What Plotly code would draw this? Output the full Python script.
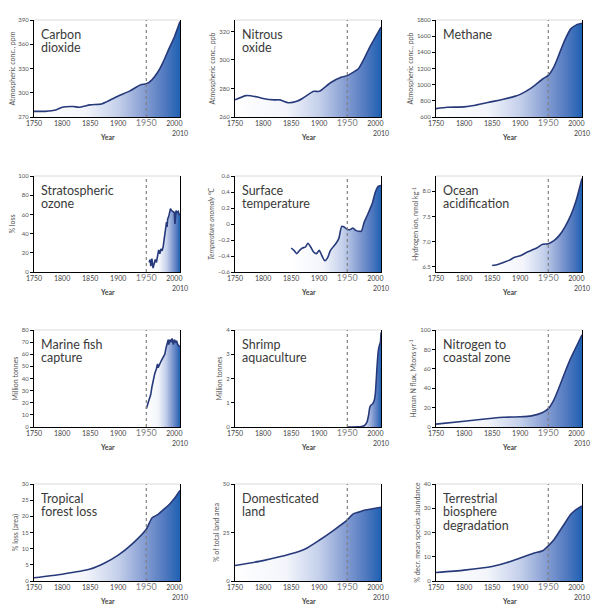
import plotly.graph_objects as go

# ---- data ----
co2_years = [1750, 1770, 1790, 1800, 1820, 1830, 1850, 1870, 1880, 1900, 1920, 1940, 1950, 1960, 1970, 1980, 1990, 2000, 2010]
co2_ppm = [277, 277, 279, 282, 283, 282, 285, 286, 289, 296, 302, 310, 311, 316, 325, 338, 354, 369, 388]

n2o_years = [1750, 1770, 1790, 1800, 1820, 1830, 1845, 1860, 1870, 1890, 1900, 1920, 1940, 1950, 1970, 1980, 1990, 2000, 2010]
n2o_ppb = [272, 275, 274, 273, 272, 272, 270, 271, 273, 278, 278, 284, 288, 289, 294, 301, 309, 316, 323]

ch4_years = [1750, 1770, 1800, 1820, 1850, 1870, 1890, 1900, 1920, 1940, 1950, 1960, 1970, 1980, 1990, 2000, 2010]
ch4_ppb = [703, 720, 725, 745, 790, 820, 855, 880, 960, 1070, 1115, 1220, 1390, 1560, 1690, 1740, 1760]

ozone_years = [1955, 1957, 1958, 1960, 1962, 1964, 1966, 1968, 1970, 1972, 1974, 1976, 1978, 1980, 1982, 1984,
               1986, 1987, 1988, 1990, 1992, 1993, 1995, 1997, 1999, 2000, 2001, 2002, 2003, 2005, 2007, 2008, 2010]
ozone_loss = [10, 13, 6, 14, 4, 9, 13, 10, 18, 23, 19, 24, 22, 26, 35, 45,
              52, 47, 55, 58, 62, 66, 64, 63, 62, 62, 50, 58, 64, 62, 63, 60, 60]

temp_years = [1850, 1855, 1860, 1865, 1870, 1875, 1880, 1885, 1890, 1895, 1900, 1905, 1910, 1915, 1920, 1930,
              1935, 1940, 1945, 1950, 1955, 1960, 1965, 1970, 1975, 1980, 1985, 1990, 1995, 2000, 2005, 2010]
temp_anom = [-0.30, -0.33, -0.37, -0.33, -0.30, -0.29, -0.24, -0.29, -0.35, -0.37, -0.33, -0.40, -0.46, -0.42, -0.33, -0.24,
             -0.18, -0.03, -0.04, -0.07, -0.07, -0.05, -0.08, -0.09, -0.09, 0.02, 0.10, 0.18, 0.27, 0.40, 0.47, 0.48]

ocean_years = [1850, 1860, 1870, 1880, 1890, 1900, 1910, 1920, 1930, 1940, 1950, 1960, 1970, 1980, 1990, 2000, 2010]
ocean_h = [6.53, 6.55, 6.59, 6.63, 6.69, 6.72, 6.78, 6.83, 6.88, 6.95, 6.96, 7.02, 7.13, 7.30, 7.52, 7.83, 8.25]

fish_years = [1950, 1952, 1955, 1958, 1960, 1962, 1965, 1968, 1970, 1971, 1973, 1975, 1977, 1980, 1983, 1985,
              1987, 1989, 1990, 1992, 1994, 1996, 1998, 2000, 2002, 2004, 2006, 2008, 2010]
fish_mt = [15, 18, 22, 27, 33, 38, 44, 48, 52, 49, 52, 53, 55, 57, 60, 65,
           70, 72, 68, 72, 70, 73, 68, 72, 70, 71, 68, 67, 66]

shrimp_years = [1950, 1970, 1975, 1980, 1985, 1988, 1990, 1992, 1995, 1998, 2000, 2003, 2005, 2007, 2009, 2010]
shrimp_mt = [0, 0.01, 0.02, 0.05, 0.2, 0.5, 0.8, 0.9, 0.95, 1.1, 1.4, 2.5, 3.1, 3.35, 3.5, 3.9]

nitro_years = [1750, 1800, 1850, 1870, 1900, 1920, 1940, 1950, 1960, 1970, 1980, 1990, 2000, 2010]
nitro_flux = [3, 6, 9, 10, 10.5, 11.5, 15, 19, 28, 42, 57, 71, 83, 95]

forest_years = [1750, 1800, 1850, 1875, 1900, 1925, 1950, 1960, 1970, 1980, 1990, 2000, 2010]
forest_loss = [1.0, 2.1, 3.7, 5.5, 8, 11.5, 16, 19.5, 20.5, 22, 23.5, 25.5, 28]

land_years = [1750, 1800, 1850, 1875, 1900, 1925, 1950, 1960, 1970, 1980, 1990, 2000, 2010]
land_pct = [8, 10.5, 14, 16.5, 21, 26, 31.5, 34.5, 35.5, 36.5, 37, 37.5, 38]

bio_years = [1750, 1800, 1850, 1875, 1900, 1925, 1940, 1950, 1960, 1970, 1980, 1990, 2000, 2010]
bio_decr = [3.5, 4.5, 6, 7.5, 9.5, 11.5, 12.5, 14.5, 17, 20.5, 24, 27.5, 29.5, 31]

x_ticks = [1750, 1800, 1850, 1900, 1950, 2000, 2010]
x_labels = ["1750", "1800", "1850", "1900",
            "<span style='font-size:9px;color:#808080'>1950</span>", "2000", "<br>2010"]
marker_year = 1950

# title lines, y-axis title, x, y, y range, y ticks, tick format, smooth line
panels = [
    (["Carbon", "dioxide"], "Atmospheric conc., ppm", co2_years, co2_ppm, [270, 390], [270, 300, 330, 360, 390], "", True),
    (["Nitrous", "oxide"], "Atmospheric conc., ppb", n2o_years, n2o_ppb, [260, 328], [260, 280, 300, 320], "", True),
    (["Methane"], "Atmospheric conc., ppb", ch4_years, ch4_ppb, [600, 1800], [600, 800, 1000, 1200, 1400, 1600, 1800], "", True),
    (["Stratospheric", "ozone"], "% loss", ozone_years, ozone_loss, [0, 100], [0, 20, 40, 60, 80, 100], "", False),
    (["Surface", "temperature"], "<i>Temperature anomaly °C</i>", temp_years, temp_anom, [-0.6, 0.6],
     [-0.6, -0.4, -0.2, 0, 0.2, 0.4, 0.6], "", True),
    (["Ocean", "acidification"], "Hydrogen ion, nmol kg<sup>-1</sup>", ocean_years, ocean_h, [6.4, 8.3],
     [6.5, 7.0, 7.5, 8.0], ".1f", True),
    (["Marine fish", "capture"], "Million tonnes", fish_years, fish_mt, [0, 80], [0, 10, 20, 30, 40, 50, 60, 70, 80], "", False),
    (["Shrimp", "aquaculture"], "Million tonnes", shrimp_years, shrimp_mt, [0, 4], [0, 1, 2, 3, 4], "", True),
    (["Nitrogen to", "coastal zone"], "Human N flux, Mtons yr<sup>-1</sup>", nitro_years, nitro_flux, [0, 100],
     [0, 20, 40, 60, 80, 100], "", True),
    (["Tropical", "forest loss"], "% loss (area)", forest_years, forest_loss, [0, 30], [0, 5, 10, 15, 20, 25, 30], "", True),
    (["Domesticated", "land"], "% of total land area", land_years, land_pct, [0, 50], [0, 25, 50], "", True),
    (["Terrestrial", "biosphere", "degradation"], "% decr. mean species abundance", bio_years, bio_decr, [0, 40],
     [0, 10, 20, 30, 40], "", True),
]

# page body has an 8px margin, so the figure is 8px smaller and panels are placed 8px up/left
W, H = 592, 597
col_px = [(26, 172), (227, 373), (428, 574)]
row_px = [(12, 109), (168, 264), (322, 419), (476, 573)]

grad = [[0, "#ffffff"], [0.35, "#f3f5fb"], [0.58, "#c3cfea"], [0.77, "#8099d0"], [0.9, "#4f78bf"], [1, "#1f61b2"]]
line_col = "#26397a"
font = "Lato"

fig = go.Figure()
annotations = []
shapes = []

for i, (title, ytitle, xs, ys, yr, yt, yfmt, smooth) in enumerate(panels):
    r, c = divmod(i, 3)
    n = i + 1
    dom = "" if n == 1 else n
    xa, ya = f"x{dom}", f"y{dom}"
    shape = "spline" if smooth else "linear"

    # baseline at bottom of the axis, the series fills down to it
    fig.add_trace(go.Scatter(x=xs, y=[yr[0]] * len(xs), xaxis=xa, yaxis=ya, mode="lines",
                             line=dict(width=0), hoverinfo="skip", showlegend=False))
    fig.add_trace(go.Scatter(x=xs, y=ys, xaxis=xa, yaxis=ya, mode="lines", fill="tonexty",
                             fillgradient=dict(type="horizontal", colorscale=grad),
                             line=dict(color=line_col, width=1.6, shape=shape, smoothing=0.6),
                             showlegend=False))

    x0, x1 = col_px[c]
    y0, y1 = row_px[r]
    fig.layout[f"xaxis{dom}"] = dict(
        domain=[x0 / W, x1 / W], anchor=ya, range=[1750, 2010], automargin=False,
        tickmode="array", tickvals=x_ticks, ticktext=x_labels, tickangle=0,
        ticks="", showline=True, linecolor="black", linewidth=1,
        showgrid=False, zeroline=False,
        tickfont=dict(family=font, size=7, color="#444"))
    fig.layout[f"yaxis{dom}"] = dict(
        domain=[1 - y1 / H, 1 - y0 / H], anchor=xa, range=yr, automargin=False,
        tickmode="array", tickvals=yt, tickformat=yfmt, ticks="outside", ticklen=3, tickcolor="black",
        showline=True, linecolor="black", linewidth=1, mirror=True,
        showgrid=False, zeroline=False,
        tickfont=dict(family=font, size=6, color="#555"),
        title=dict(text=ytitle, font=dict(family=font, size=7, color="#555"), standoff=2))

    for k, line in enumerate(title):
        annotations.append(dict(text=line, xref=f"x{dom} domain", yref=f"y{dom} domain", x=0.035, y=0.95,
                                yshift=-13.5 * k, xanchor="left", yanchor="top", showarrow=False,
                                font=dict(family=font, size=12.5, color="#3a3a3a")))
    annotations.append(dict(text="<b>Year</b>", xref=f"x{dom} domain", yref=f"y{dom} domain", x=0.5, y=-0.21,
                            xanchor="center", yanchor="middle", showarrow=False,
                            font=dict(family=font, size=7, color="#444")))
    # faint top border of each panel
    shapes.append(dict(type="line", xref=f"x{dom} domain", yref=f"y{dom} domain", x0=0, x1=1, y0=1, y1=1,
                       line=dict(color="#d0d0d0", width=0.8)))
    shapes.append(dict(type="line", xref=xa, yref=f"y{dom} domain", x0=marker_year, x1=marker_year, y0=0, y1=1,
                       line=dict(color="#808080", width=1.2, dash="dot")))

fig.update_layout(width=W, height=H, margin=dict(l=0, r=0, t=0, b=0),
                  paper_bgcolor="white", plot_bgcolor="white",
                  annotations=annotations, shapes=shapes,
                  font=dict(family=font))

fig.write_html("out.html")
